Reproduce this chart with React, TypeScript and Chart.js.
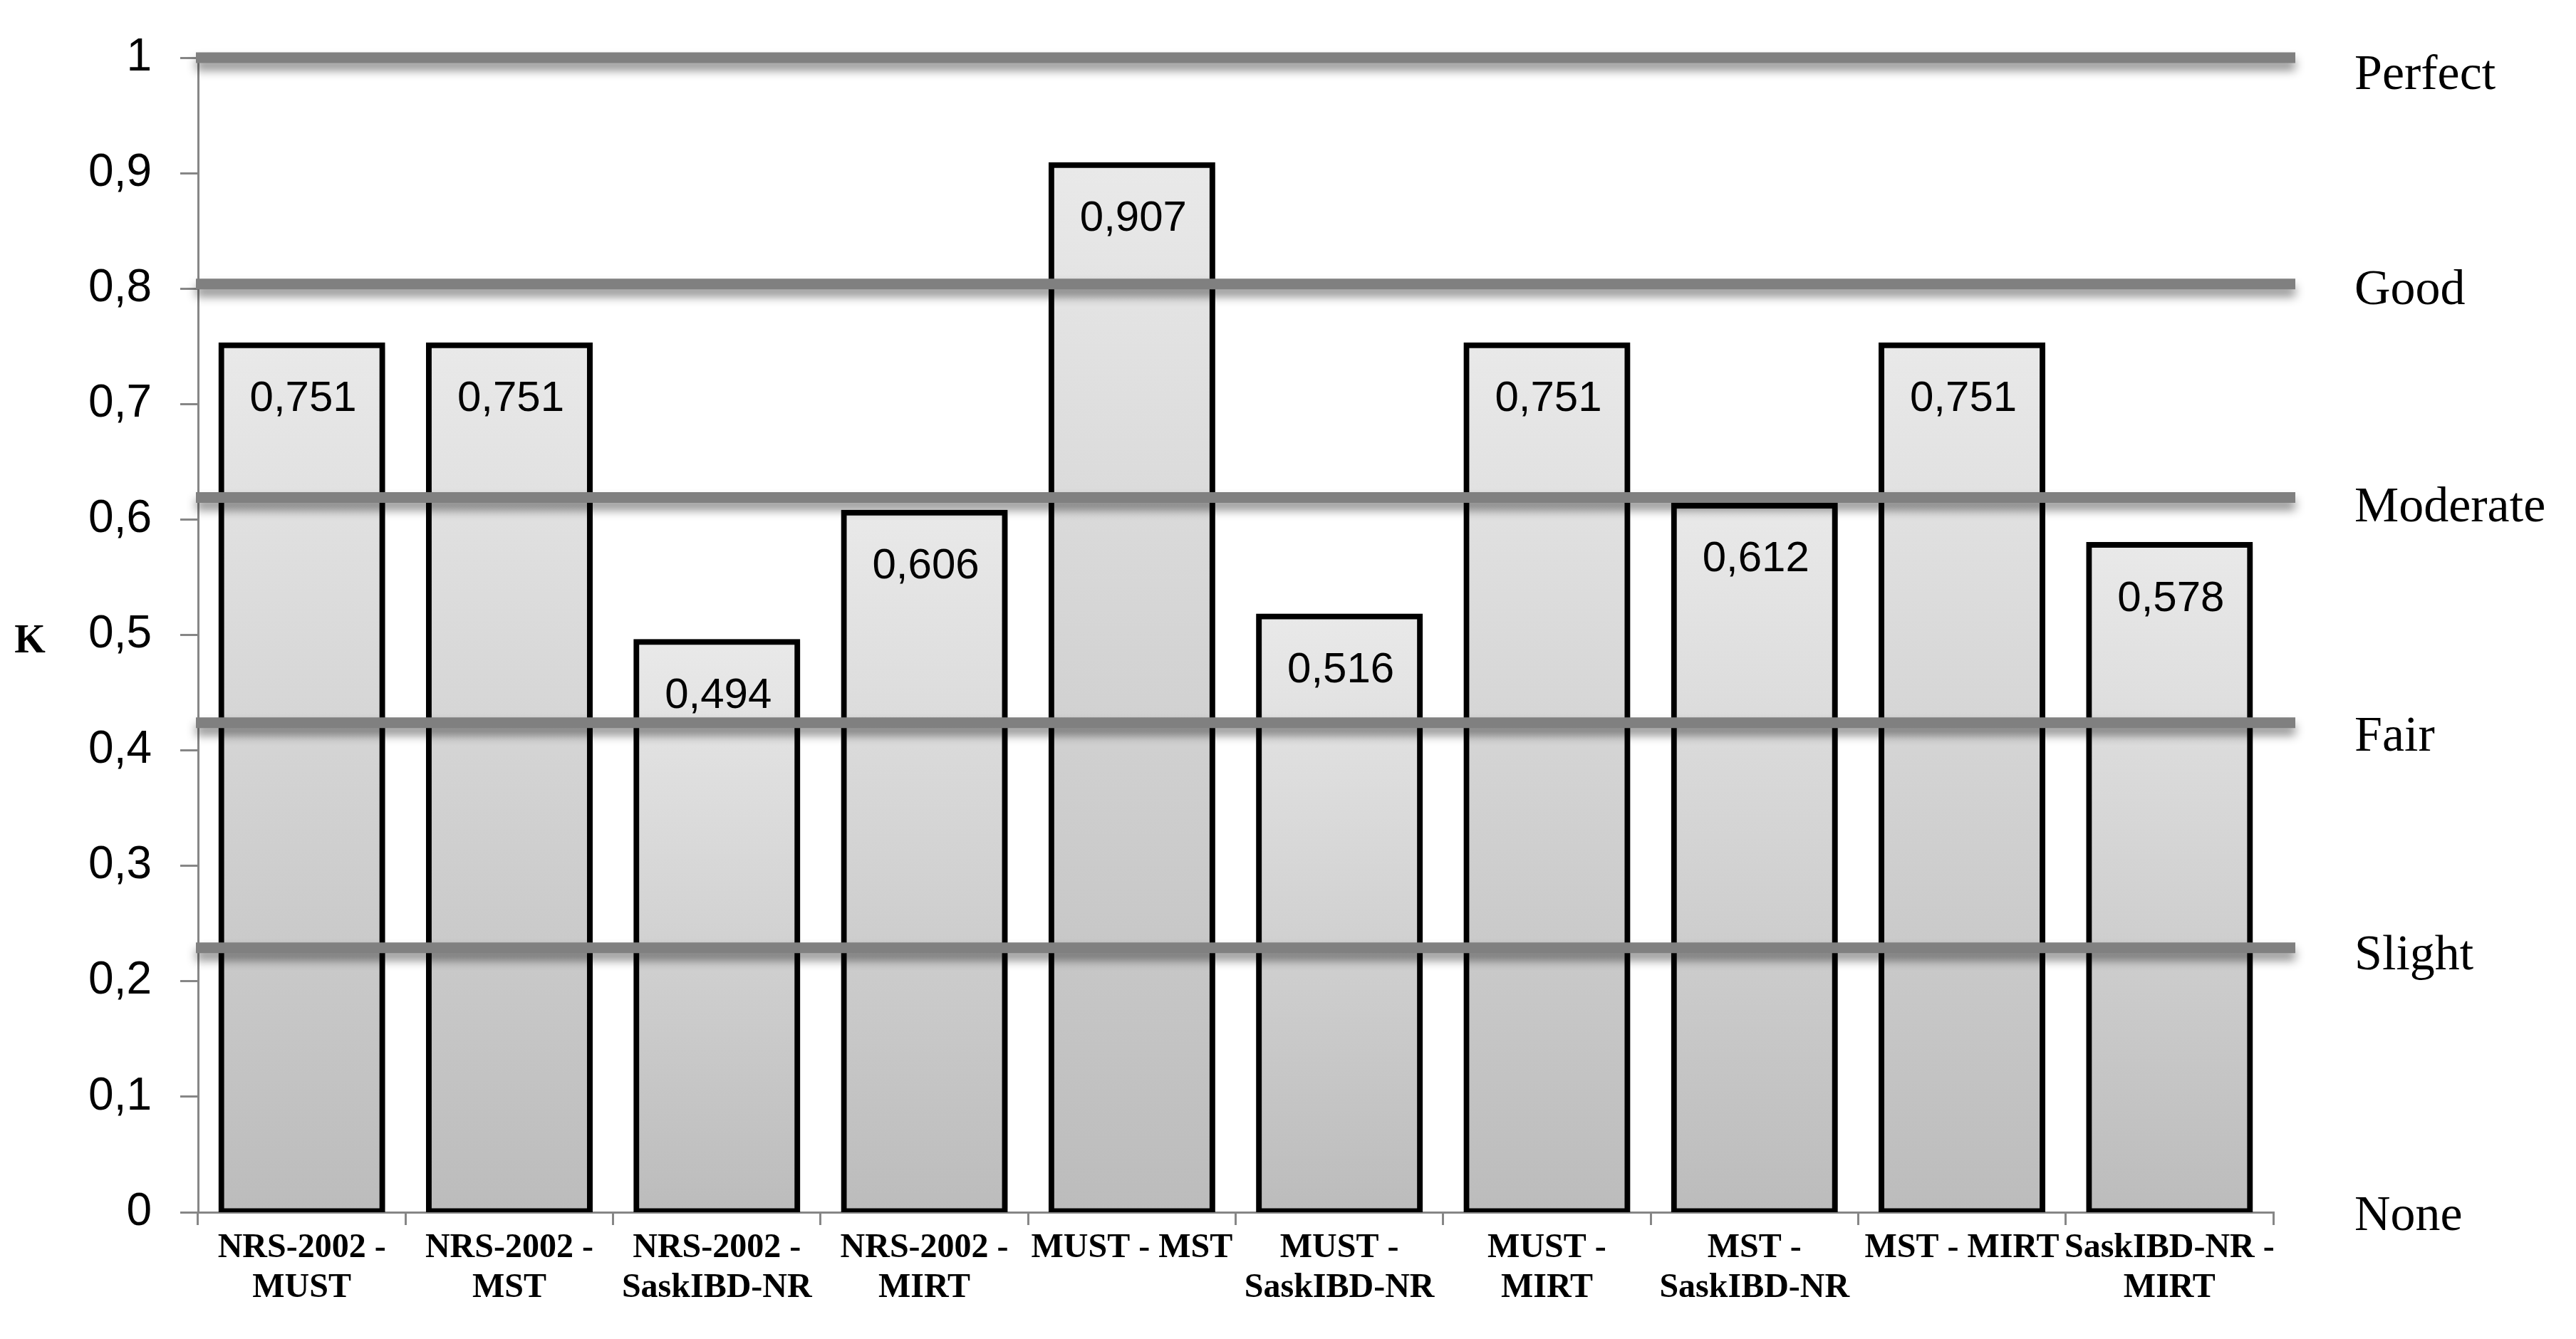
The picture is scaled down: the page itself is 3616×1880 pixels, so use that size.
import React, { useEffect, useRef } from 'react';
import { Chart, registerables } from 'chart.js';

Chart.register(...registerables);

const categories: (string | string[])[] = [
  ['NRS-2002 -', 'MUST'],
  ['NRS-2002 -', 'MST'],
  ['NRS-2002 -', 'SaskIBD-NR'],
  ['NRS-2002 -', 'MIRT'],
  'MUST - MST',
  ['MUST -', 'SaskIBD-NR'],
  ['MUST -', 'MIRT'],
  ['MST -', 'SaskIBD-NR'],
  'MST - MIRT',
  ['SaskIBD-NR -', 'MIRT'],
];
const kappaValues = [0.751, 0.751, 0.494, 0.606, 0.907, 0.516, 0.751, 0.612, 0.751, 0.578];
const thresholdValues = [1.0, 0.804, 0.619, 0.424, 0.229];
const agreementLabels = ['Perfect', 'Good', 'Moderate', 'Fair', 'Slight', 'None'];
const agreementLabelValues = [0.984, 0.798, 0.61, 0.411, 0.222, -0.004];
const yAxisTitle = 'K';

const fmt = (v: number) => String(v).replace('.', ',');

const overlayPlugin = {
  id: 'overlay',
  beforeDatasetsDraw(chart: any) {
    const ctx = chart.ctx;
    ctx.save();
    ctx.shadowColor = 'rgba(0,0,0,0.3)';
    ctx.shadowBlur = 12;
    ctx.shadowOffsetX = 4;
    ctx.shadowOffsetY = 2;
  },
  afterDatasetsDraw(chart: any) {
    const ctx = chart.ctx;
    ctx.restore();
    const { chartArea } = chart;
    const yScale = chart.scales.y;
    const meta = chart.getDatasetMeta(0);
    // value labels
    ctx.save();
    ctx.fillStyle = '#000';
    ctx.font = '60px "Liberation Sans", Arial, sans-serif';
    ctx.textAlign = 'center';
    ctx.textBaseline = 'middle';
    meta.data.forEach((bar: any, i: number) => {
      ctx.fillText(fmt(kappaValues[i]), bar.x + 2, bar.y + 76);
    });
    ctx.restore();
    // threshold lines
    thresholdValues.forEach((v) => {
      const y = yScale.getPixelForValue(v);
      ctx.save();
      ctx.shadowColor = 'rgba(0,0,0,0.45)';
      ctx.shadowBlur = 14;
      ctx.shadowOffsetY = 10;
      ctx.strokeStyle = '#808080';
      ctx.lineWidth = 15;
      ctx.beginPath();
      ctx.moveTo(chartArea.left - 3, y);
      ctx.lineTo(chartArea.right + 31, y);
      ctx.stroke();
      ctx.restore();
    });
    // agreement labels
    ctx.save();
    ctx.fillStyle = '#000';
    ctx.font = '70px "Liberation Serif", "Times New Roman", serif';
    ctx.textAlign = 'left';
    ctx.textBaseline = 'middle';
    agreementLabels.forEach((lab, i) => {
      ctx.fillText(lab, chartArea.right + 114, yScale.getPixelForValue(agreementLabelValues[i]));
    });
    // axis title
    ctx.font = 'bold 56px "Liberation Serif", "Times New Roman", serif';
    ctx.textAlign = 'center';
    ctx.fillText(yAxisTitle, 42, (chartArea.top + chartArea.bottom) / 2 + 10);
    ctx.restore();
  },
};

export default function App() {
  const canvasRef = useRef<HTMLCanvasElement | null>(null);

  useEffect(() => {
    const canvas = canvasRef.current;
    if (!canvas) return;
    const chart = new Chart(canvas, {
      type: 'bar',
      data: {
        labels: categories,
        datasets: [
          {
            data: kappaValues,
            backgroundColor: (context: any) => {
              const ch = context.chart;
              const ys = ch.scales && ch.scales.y;
              if (!ys || context.type !== 'data') return '#d0d0d0';
              const top = ys.getPixelForValue(context.raw);
              const bottom = ys.getPixelForValue(0);
              if (!isFinite(top) || !isFinite(bottom) || top === bottom) return '#d0d0d0';
              const g = ch.ctx.createLinearGradient(0, top, 0, bottom);
              g.addColorStop(0, '#e9e9e9');
              g.addColorStop(1, '#bcbcbc');
              return g;
            },
            borderColor: '#000000',
            borderWidth: 8,
            borderSkipped: false,
            inflateAmount: 4,
            barPercentage: 0.776,
            categoryPercentage: 1,
          },
        ],
      },
      options: {
        responsive: false,
        animation: false,
        devicePixelRatio: 1,
        layout: { padding: { left: 0, right: 425, top: 81, bottom: 0 } },
        plugins: {
          legend: { display: false },
          tooltip: { enabled: false },
          title: { display: false },
        },
        scales: {
          x: {
            type: 'category',
            afterFit: (scale: any) => {
              scale.height = 178;
            },
            grid: {
              display: true,
              drawOnChartArea: false,
              drawTicks: true,
              tickLength: 18,
              color: '#868686',
              lineWidth: 3,
              offset: true,
            },
            border: { display: true, color: '#868686', width: 3 },
            ticks: {
              color: '#000',
              autoSkip: false,
              maxRotation: 0,
              minRotation: 0,
              padding: 4,
              font: { family: '"Liberation Serif", "Times New Roman", serif', size: 48, weight: 'bold', lineHeight: 1.18 },
            },
          },
          y: {
            min: 0,
            max: 1,
            afterFit: (scale: any) => {
              scale.width = 278;
            },
            grid: {
              display: true,
              drawOnChartArea: false,
              drawTicks: true,
              tickLength: 25,
              color: '#868686',
              lineWidth: 3,
            },
            border: { display: true, color: '#868686', width: 3 },
            ticks: {
              stepSize: 0.1,
              color: '#000',
              padding: 40,
              font: { family: '"Liberation Sans", Arial, sans-serif', size: 64 },
              callback: (v: any) => {
                const n = Math.round(Number(v) * 10) / 10;
                return fmt(n);
              },
            },
          },
        },
      },
      plugins: [overlayPlugin],
    });
    return () => chart.destroy();
  }, []);

  return (
    <div style={{ position: 'absolute', left: 0, top: 0, width: 3616, height: 1880, background: '#fff' }}>
      <canvas ref={canvasRef} width={3616} height={1880} style={{ display: 'block', width: 3616, height: 1880 }} />
    </div>
  );
}
